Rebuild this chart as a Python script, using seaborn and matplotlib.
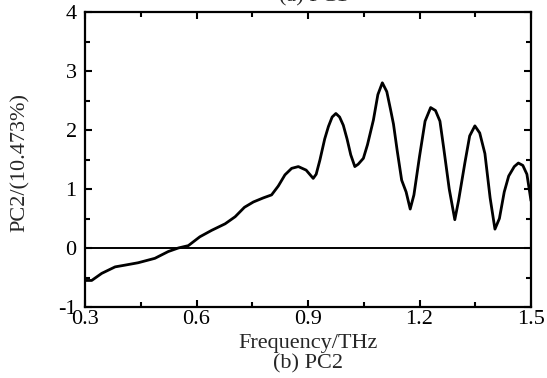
import matplotlib
matplotlib.use("Agg")
import matplotlib.pyplot as plt
import seaborn as sns
import pandas as pd
from matplotlib.ticker import MultipleLocator

freq = [0.300, 0.318, 0.345, 0.381, 0.408, 0.443, 0.488, 0.524, 0.551, 0.578,
        0.609, 0.641, 0.677, 0.704, 0.729, 0.753, 0.780, 0.802, 0.820, 0.838,
        0.856, 0.874, 0.895, 0.914, 0.922, 0.932, 0.945, 0.955, 0.965, 0.975,
        0.985, 0.995, 1.005, 1.015, 1.026, 1.035, 1.049, 1.060, 1.076, 1.088,
        1.100, 1.112, 1.122, 1.130, 1.140, 1.152, 1.164, 1.175, 1.185, 1.200,
        1.215, 1.230, 1.243, 1.255, 1.265, 1.280, 1.295, 1.305, 1.322, 1.335,
        1.349, 1.362, 1.376, 1.390, 1.403, 1.415, 1.428, 1.440, 1.455, 1.466,
        1.478, 1.489, 1.500]
pc2 = [-0.55, -0.55, -0.43, -0.32, -0.29, -0.25, -0.175, -0.06, 0.00, 0.04,
       0.19, 0.30, 0.41, 0.53, 0.69, 0.78, 0.85, 0.90, 1.05, 1.24,
       1.35, 1.38, 1.32, 1.18, 1.25, 1.49, 1.85, 2.06, 2.22, 2.28,
       2.22, 2.08, 1.85, 1.58, 1.38, 1.42, 1.52, 1.75, 2.17, 2.60,
       2.80, 2.65, 2.35, 2.10, 1.65, 1.15, 0.95, 0.66, 0.90, 1.55,
       2.15, 2.38, 2.33, 2.15, 1.70, 1.00, 0.48, 0.80, 1.44, 1.90,
       2.07, 1.95, 1.60, 0.85, 0.32, 0.50, 0.95, 1.22, 1.38, 1.44,
       1.40, 1.25, 0.80]

x_ticks = [0.3, 0.6, 0.9, 1.2, 1.5]
x_tick_labels = ["0.3", "0.6", "0.9", "1.2", "1.5"]
y_ticks = [-1, 0, 1, 2, 3, 4]
y_tick_labels = ["-1", "0", "1", "2", "3", "4"]

df = pd.DataFrame({"freq": freq, "pc2": pc2})

sns.set_style("ticks")
plt.rcParams["font.family"] = ["Liberation Serif", "DejaVu Serif"]

fig = plt.figure(figsize=(5.47, 3.78), dpi=100)
ax = fig.add_axes([85/547, 1-307/378, (531-85)/547, (307-12)/378])

sns.lineplot(data=df, x="freq", y="pc2", ax=ax, color="black", linewidth=2.0,
             solid_joinstyle="round", solid_capstyle="round")
ax.axhline(0, color="black", linewidth=1.4)

ax.set_xlim(0.3, 1.5)
ax.set_ylim(-1, 4)
ax.set_xticks(x_ticks)
ax.set_xticklabels(x_tick_labels)
ax.set_yticks(y_ticks)
ax.set_yticklabels(y_tick_labels)
ax.xaxis.set_minor_locator(MultipleLocator(0.15))
ax.yaxis.set_minor_locator(MultipleLocator(0.5))
ax.tick_params(which="both", direction="in", top=True, right=True, width=1.5,
               colors="black", labelsize=16)
ax.tick_params(axis="x", pad=2)
ax.tick_params(axis="y", pad=6)
ax.tick_params(which="major", length=5)
ax.tick_params(which="minor", length=3.5)
for s in ax.spines.values():
    s.set_linewidth(1.6)
    s.set_color("black")

ax.set_xlabel("Frequency/THz", fontsize=16)
ax.set_ylabel("PC2/(10.473%)", fontsize=16)
ax.xaxis.set_label_coords(0.5, (307 - 334) / 295)
ax.yaxis.set_label_coords((30 - 85) / 446, 0.49)
fig.text((85 + 531) / 2 / 547, 1 - 364/378, "(b) PC2", ha="center", va="center",
         fontsize=16)
fig.text((85 + 531) / 2 / 547 + 0.01, 1.008, "(a) PC1", ha="center", va="center",
         fontsize=16)

fig.savefig("out.png", dpi=100)
